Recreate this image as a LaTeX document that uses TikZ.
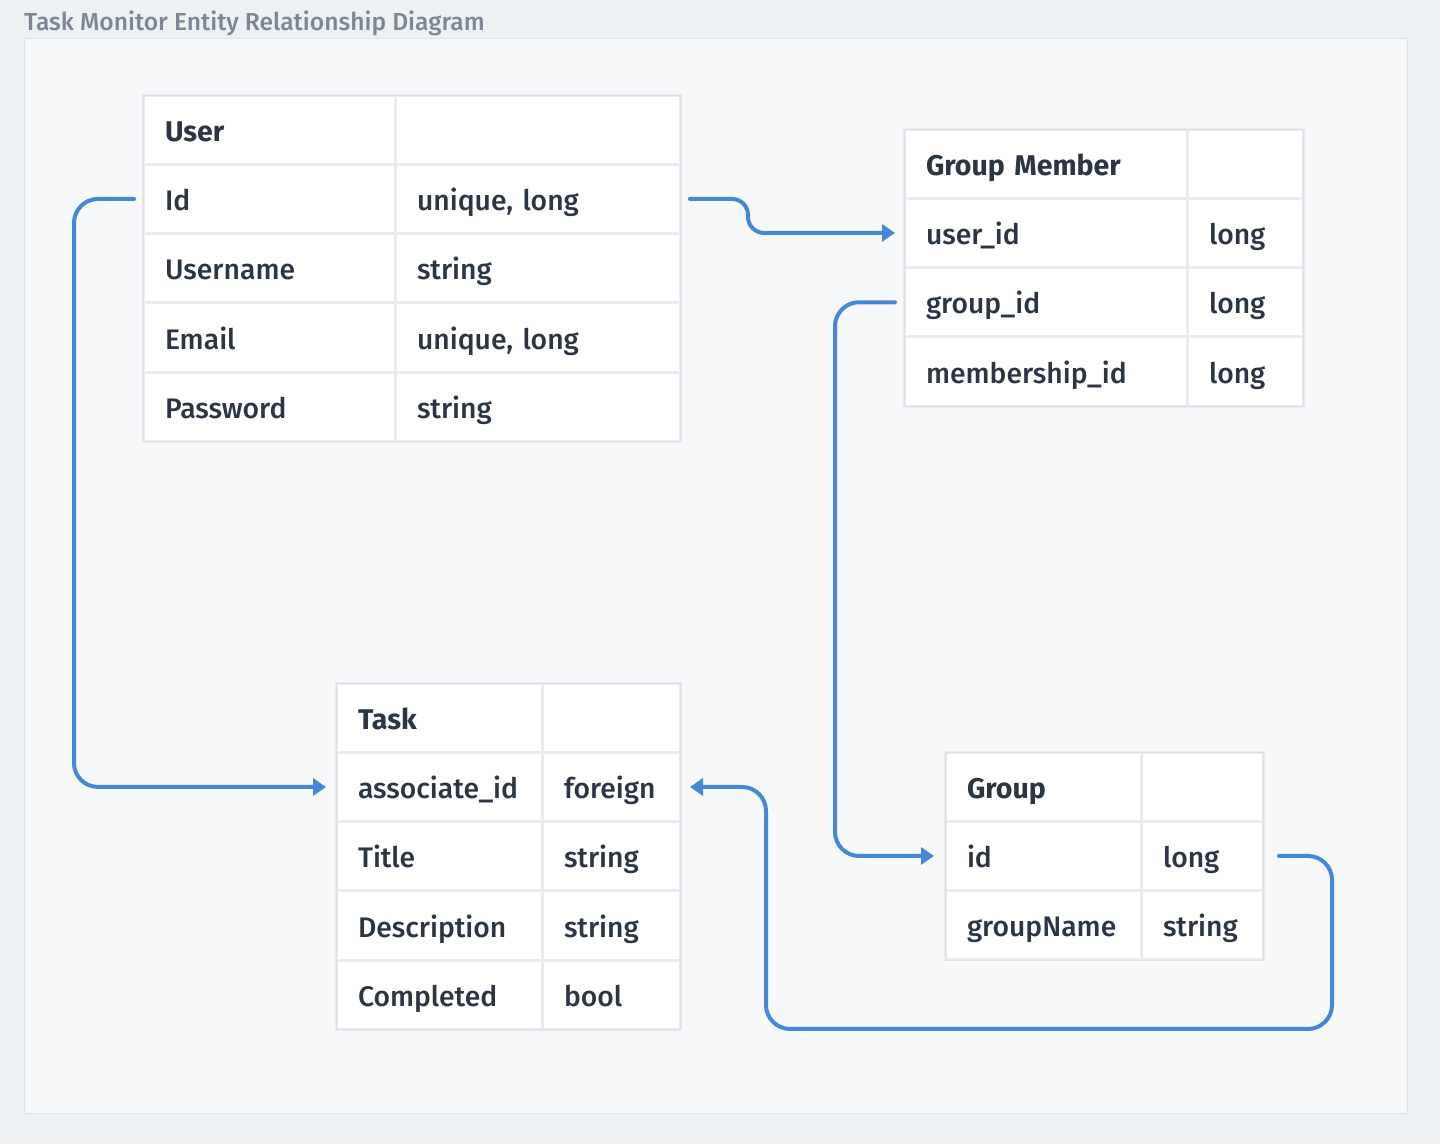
\documentclass[tikz,border=0pt]{standalone}
\usepackage{fontspec}
\setmainfont{Fira Sans}[UprightFont={* Medium}, BoldFont={* Bold}]
\usetikzlibrary{positioning, arrows.meta}

\definecolor{backdrop}{HTML}{EEF1F4}
\definecolor{panel}{HTML}{F7F8FA}
\definecolor{panelline}{HTML}{DFE2E6}
\definecolor{gridline}{HTML}{E8EBEF}
\definecolor{tableedge}{HTML}{DCE0E4}
\definecolor{ink}{HTML}{2B3544}
\definecolor{titlegray}{HTML}{7B8794}
\definecolor{linkblue}{HTML}{4788D6}

\tikzset{
  cell/.style={draw=gridline, line width=3pt, fill=white, outer sep=0pt,
    minimum height=69.3pt, inner xsep=22pt, inner ysep=0pt, align=left,
    text height=29pt, text depth=6pt, text=ink, font=\fontsize{28.3}{31}\selectfont},
  head/.style={font=\fontsize{28.5}{31}\selectfont\bfseries},
  link/.style={draw=linkblue, line width=4pt, line cap=round, rounded corners=24pt,
    -{Triangle[length=13pt,width=17pt]}},
}

\begin{document}
\begin{tikzpicture}[x=1pt, y=-1pt,
  ua/.style={cell, text width=208pt}, ub/.style={cell, text width=241pt},
  ma/.style={cell, text width=239pt}, mb/.style={cell, text width=72pt},
  ta/.style={cell, text width=162pt}, tb/.style={cell, text width=94pt},
  ga/.style={cell, text width=152pt}, gb/.style={cell, text width=78pt}]
\useasboundingbox (0,0) rectangle (1440,1144);
\fill[backdrop] (0,0) rectangle (1440,1144);
\filldraw[fill=panel, draw=panelline, line width=1pt] (24,38) rectangle (1407,1113);
\node[anchor=base west, inner sep=0pt, text=titlegray, font=\fontsize{24.6}{28}\selectfont] (title) at (24,30) {Task Monitor Entity Relationship Diagram};

% User
\node[ua, head, anchor=north west] (user-head) at (143,95) {User};
\node[ub, anchor=north west] (user-head-t) at (395,95) {};
\node[ua, below=0pt of user-head] (user-id) {Id};
\node[ub, below=0pt of user-head-t] (user-id-t) {unique, long};
\node[ua, below=0pt of user-id] (user-name) {Username};
\node[ub, below=0pt of user-id-t] (user-name-t) {string};
\node[ua, below=0pt of user-name] (user-mail) {Email};
\node[ub, below=0pt of user-name-t] (user-mail-t) {unique, long};
\node[ua, below=0pt of user-mail] (user-pass) {Password};
\node[ub, below=0pt of user-mail-t] (user-pass-t) {string};
\draw[tableedge] (user-head.north west) rectangle (user-pass-t.south east);

% Group Member
\node[ma, head, anchor=north west] (gm-head) at (904,129) {Group Member};
\node[mb, anchor=north west] (gm-head-t) at (1187,129) {};
\node[ma, below=0pt of gm-head] (gm-user) {user\_id};
\node[mb, below=0pt of gm-head-t] (gm-user-t) {long};
\node[ma, below=0pt of gm-user] (gm-group) {group\_id};
\node[mb, below=0pt of gm-user-t] (gm-group-t) {long};
\node[ma, below=0pt of gm-group] (gm-member) {membership\_id};
\node[mb, below=0pt of gm-group-t] (gm-member-t) {long};
\draw[tableedge] (gm-head.north west) rectangle (gm-member-t.south east);

% Task
\node[ta, head, anchor=north west] (task-head) at (336,683) {Task};
\node[tb, anchor=north west] (task-head-t) at (542,683) {};
\node[ta, below=0pt of task-head] (task-assoc) {associate\_id};
\node[tb, below=0pt of task-head-t] (task-assoc-t) {foreign};
\node[ta, below=0pt of task-assoc] (task-title) {Title};
\node[tb, below=0pt of task-assoc-t] (task-title-t) {string};
\node[ta, below=0pt of task-title] (task-desc) {Description};
\node[tb, below=0pt of task-title-t] (task-desc-t) {string};
\node[ta, below=0pt of task-desc] (task-done) {Completed};
\node[tb, below=0pt of task-desc-t] (task-done-t) {bool};
\draw[tableedge] (task-head.north west) rectangle (task-done-t.south east);

% Group
\node[ga, head, anchor=north west] (group-head) at (945,752) {Group};
\node[gb, anchor=north west] (group-head-t) at (1141,752) {};
\node[ga, below=0pt of group-head] (group-id) {id};
\node[gb, below=0pt of group-head-t] (group-id-t) {long};
\node[ga, below=0pt of group-id] (group-name) {groupName};
\node[gb, below=0pt of group-id-t] (group-name-t) {string};
\draw[tableedge] (group-head.north west) rectangle (group-name-t.south east);

% relations
\draw[link, shorten <=9pt, shorten >=10pt] (user-id.west) -- ++(-69,0) |- (task-assoc.west);
\draw[link, rounded corners=16pt, shorten <=10pt, shorten >=9pt] (user-id-t.east) -- ++(68,0) |- (gm-user.west);
\draw[link, shorten <=9pt, shorten >=11pt] (gm-group.west) -- ++(-69,0) |- (group-id.west);
\draw[link, shorten <=16pt, shorten >=10pt] (group-id-t.east) -- ++(69,0) -- ++(0,173)
  -| ([xshift=86pt]task-assoc-t.east) -- (task-assoc-t.east);
\end{tikzpicture}
\end{document}
